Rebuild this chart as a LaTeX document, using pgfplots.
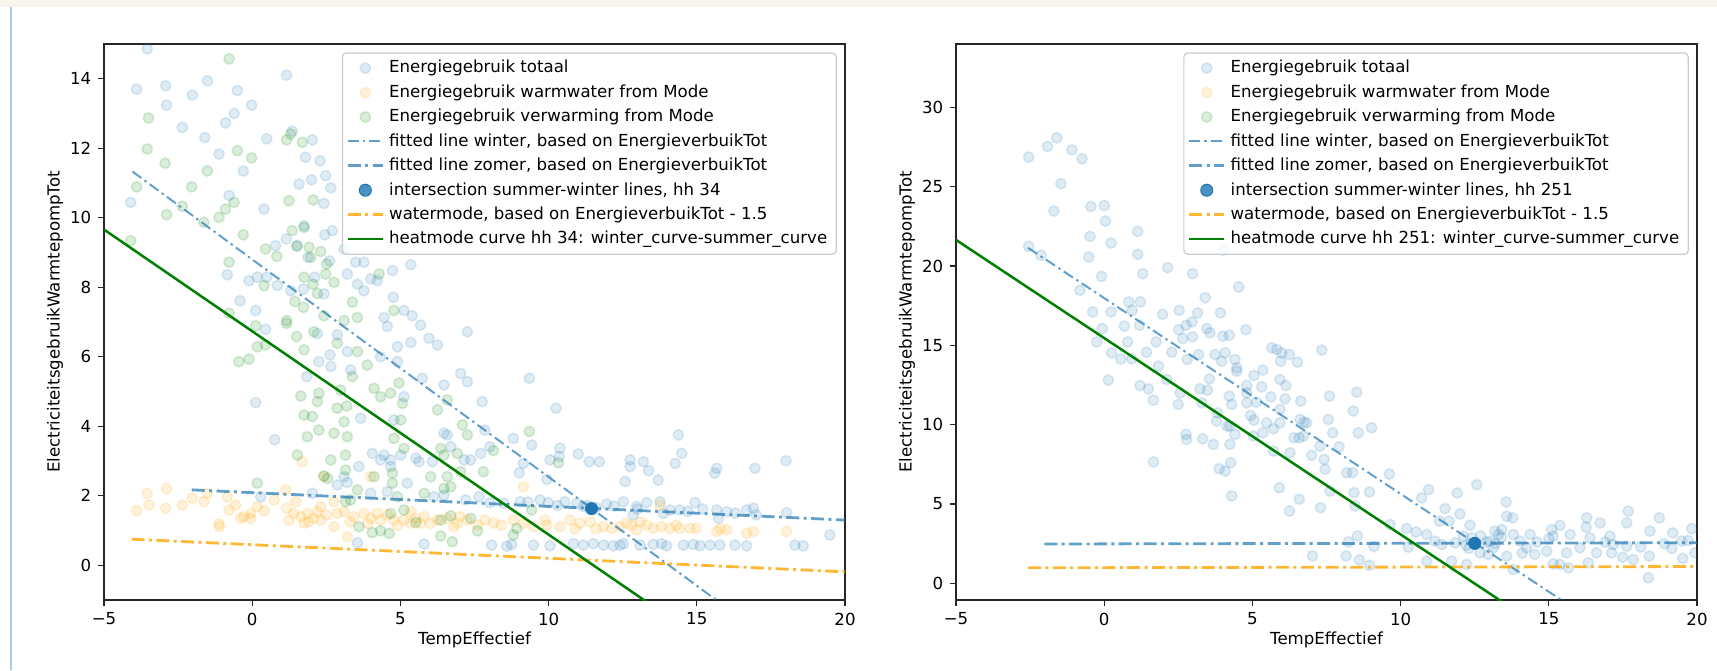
\documentclass[border=0pt]{standalone}
\usepackage{fontspec}
\setmainfont{DejaVu Sans}
\usepackage{pgfplots}
\usepackage{pgfplotstable}
\pgfplotsset{compat=1.18}

\definecolor{tabblue}{HTML}{1F77B4}
\definecolor{mplorange}{HTML}{FFA500}
\definecolor{mplgreen}{HTML}{008000}
\definecolor{pagebeige}{HTML}{F8F5EF}
\definecolor{sidebar}{HTML}{A9CBE6}

% ---- left panel (hh 34) ----
\pgfplotstableread{
x y
-3.54 14.86
-3.90 13.70
-2.92 13.80
-2.89 13.24
-2.02 13.53
-1.51 13.94
-0.50 13.66
-0.61 13.00
-0.90 12.73
-0.02 13.24
-2.36 12.60
-1.60 12.31
-1.12 11.83
-0.30 11.34
-0.78 10.64
-4.10 10.44
0.40 10.25
0.49 12.27
1.16 14.10
1.35 12.49
2.03 12.24
1.80 11.74
2.29 11.64
2.00 11.09
2.48 11.21
2.65 10.86
1.58 10.97
2.42 10.41
2.70 9.63
2.45 9.51
0.79 9.20
1.15 9.39
1.75 9.77
1.52 9.20
1.88 8.86
2.61 8.76
3.10 9.10
3.49 8.72
3.77 8.72
3.21 8.38
3.55 8.09
4.00 8.24
4.22 8.19
3.77 7.90
4.73 8.48
5.35 8.65
-0.84 8.36
-0.11 8.19
0.17 8.29
0.49 8.29
0.85 8.05
1.30 7.90
1.73 7.95
2.11 8.29
2.42 7.81
-0.41 7.61
0.12 7.33
4.76 7.71
5.12 7.33
5.40 7.18
4.45 7.13
0.45 6.79
0.12 4.68
0.76 3.61
1.84 5.43
2.25 5.86
2.62 6.05
2.87 6.63
3.21 6.15
3.32 5.62
2.65 5.72
3.66 4.23
4.05 3.22
4.33 3.03
4.45 3.17
4.67 3.03
4.67 2.84
5.01 3.17
5.52 3.08
6.47 3.80
6.58 3.75
7.03 5.52
7.26 5.28
7.26 6.72
6.25 6.34
5.96 6.53
5.68 6.91
5.35 6.41
4.56 6.87
4.33 6.00
4.90 5.86
5.12 4.85
5.74 5.38
6.47 5.19
4.78 4.18
3.60 2.84
3.21 2.38
2.87 2.31
3.10 2.55
5.23 2.36
5.63 2.98
6.08 2.98
7.15 3.03
7.37 3.03
6.70 3.41
7.71 3.22
7.76 4.71
3.55 0.65
5.80 0.61
2.03 2.07
0.29 1.97
4.00 2.07
4.56 2.12
6.13 1.97
6.47 2.02
7.20 1.88
7.65 1.97
2.20 6.67
4.90 6.29
9.35 5.38
10.25 4.52
14.38 3.75
14.49 3.22
18.01 3.01
8.81 3.65
9.43 3.46
10.38 3.37
10.36 3.13
11.00 3.20
11.37 2.98
11.71 2.98
12.75 3.03
12.75 2.84
13.20 2.98
13.37 2.72
14.27 2.93
13.70 2.45
12.58 2.41
15.67 2.79
15.61 2.65
16.96 2.79
9.15 2.93
9.01 2.66
9.94 2.47
10.05 3.03
8.02 3.41
7.85 3.89
8.02 1.80
9.04 1.83
9.99 1.80
10.55 1.83
10.95 1.78
11.17 1.69
11.96 1.76
12.52 1.83
12.97 1.69
13.31 1.80
13.76 1.83
14.10 1.59
14.43 1.59
14.94 1.80
15.67 1.59
16.01 1.54
16.68 1.59
16.91 1.64
18.03 1.51
12.86 1.45
13.87 1.49
15.73 1.35
9.71 1.88
11.30 1.72
11.60 1.66
12.20 1.70
13.00 1.62
14.70 1.55
15.20 1.62
16.30 1.50
17.00 1.45
10.30 1.72
8.50 1.78
9.30 1.82
19.49 0.87
8.08 0.58
8.59 0.55
8.75 0.60
9.49 0.58
10.05 0.56
10.84 0.62
11.17 0.58
11.51 0.62
11.85 0.58
12.18 0.56
12.41 0.58
12.52 0.62
13.08 0.58
13.53 0.60
13.81 0.62
13.98 0.56
14.55 0.58
14.88 0.60
15.11 0.56
15.45 0.58
15.78 0.58
16.29 0.58
16.68 0.56
18.31 0.58
18.59 0.56
}\lefttotal

\pgfplotstableread{
x y
-3.90 1.57
-3.54 2.07
-3.48 1.73
-2.92 1.64
-2.89 2.21
-2.36 1.73
-2.02 1.93
-1.63 1.83
-1.51 2.07
-1.12 1.19
-1.10 1.11
-0.84 1.97
-0.78 1.59
-0.56 1.73
-0.28 1.40
-0.05 1.49
0.17 1.69
0.40 1.57
-0.05 1.35
-0.39 1.35
1.16 1.64
1.41 1.49
1.64 1.40
1.86 1.49
2.08 1.35
2.31 1.30
1.75 1.21
2.42 2.55
2.76 1.83
3.10 1.54
3.43 1.40
3.77 1.49
4.00 1.35
4.22 1.49
4.33 1.30
4.78 1.30
5.12 1.30
5.35 1.21
5.80 1.40
6.25 1.30
6.58 1.35
6.92 1.21
7.26 1.30
7.60 1.16
1.69 2.98
3.21 0.82
4.00 2.55
2.31 1.69
1.24 1.30
2.76 1.11
5.68 1.21
1.13 2.17
1.47 1.83
0.74 1.88
2.87 1.49
4.56 1.45
5.35 1.54
1.90 1.25
2.50 1.45
3.30 1.25
3.90 1.20
4.90 1.15
5.50 1.35
6.00 1.20
6.80 1.10
7.00 1.40
2.20 1.55
7.85 1.30
8.14 1.21
8.81 1.30
9.15 1.21
9.49 1.11
9.88 1.30
9.94 1.16
10.38 1.11
10.72 1.30
11.06 1.21
11.40 1.25
11.85 1.11
12.13 1.06
12.41 1.11
12.63 1.21
12.97 1.02
13.31 1.16
13.53 1.06
13.81 1.11
14.10 1.06
14.43 1.06
14.77 1.06
14.99 1.06
15.67 0.97
16.01 1.02
16.68 0.92
16.91 0.97
18.03 0.97
9.15 2.26
13.76 1.73
12.80 1.15
13.10 1.25
14.30 1.15
15.80 1.05
11.60 1.05
10.90 1.05
8.40 1.15
}\leftwater

\pgfplotstableread{
x y
-0.78 14.57
-3.50 12.87
-3.54 11.98
-2.94 11.57
-1.51 11.35
-0.50 11.93
-0.02 11.72
-3.90 10.89
-2.04 10.89
-2.89 10.09
-2.36 10.33
-1.63 9.87
-1.12 10.01
-0.90 10.25
-0.61 10.44
-0.30 9.51
1.24 10.49
2.06 10.51
1.16 12.24
1.69 12.17
1.30 12.41
0.45 9.10
0.83 8.89
1.35 9.63
1.75 9.72
1.50 9.18
1.92 9.15
2.31 9.03
2.51 8.67
1.97 8.86
-0.78 8.72
1.75 8.29
2.20 7.82
2.48 8.38
2.76 8.14
2.05 8.09
1.44 7.59
1.73 7.42
1.16 7.04
0.40 8.05
3.38 7.57
3.55 7.13
3.10 7.04
4.28 8.38
4.78 7.33
-4.10 9.34
-0.78 7.25
2.42 7.18
0.12 6.89
1.16 6.96
1.50 6.58
1.75 6.20
0.17 6.29
0.45 6.34
-0.45 5.86
-0.11 5.93
2.08 6.72
2.87 6.39
3.55 6.15
3.88 5.76
3.38 5.43
2.98 5.04
2.25 4.95
1.64 4.87
1.75 4.32
2.03 4.28
2.20 4.71
2.87 4.52
3.19 4.58
3.10 4.13
2.76 3.80
1.86 3.70
1.52 3.17
2.25 3.89
3.21 3.70
3.15 3.17
2.65 3.03
2.54 2.50
3.15 2.74
2.42 2.57
4.11 5.09
4.33 4.85
4.67 4.95
4.95 5.24
5.07 4.66
5.01 4.18
6.25 4.47
6.58 4.76
7.09 4.04
7.26 3.75
4.78 3.65
5.12 3.36
6.36 3.36
6.47 3.17
6.92 3.22
6.02 2.55
6.58 2.55
7.03 2.69
4.73 2.65
4.73 2.36
4.11 2.55
3.55 2.17
3.32 1.88
3.15 1.83
4.67 1.49
5.12 1.59
5.52 1.23
6.36 1.30
6.70 1.42
7.37 1.35
7.60 0.99
3.60 1.11
4.05 0.94
4.33 0.99
4.62 0.92
6.36 0.84
6.75 0.68
0.17 2.36
4.90 1.97
5.80 2.07
6.47 2.21
6.70 2.26
9.35 3.85
10.33 2.95
7.80 2.69
8.14 3.30
8.92 1.06
8.81 0.87
9.43 1.59
}\leftheat

% ---- right panel (hh 251) ----
\pgfplotstableread{
x y
-2.55 26.87
-1.91 27.54
-1.60 28.08
-1.09 27.33
-0.75 26.76
-1.46 25.19
-1.70 23.47
-0.45 23.76
0.00 23.82
0.04 22.84
-0.48 21.87
0.23 21.45
1.13 22.19
1.13 20.74
-0.52 20.57
1.30 19.52
-0.09 19.35
2.14 19.90
2.98 19.52
4.54 18.68
-2.13 20.68
-2.55 21.25
4.00 21.00
-0.82 18.47
3.41 18.01
-0.39 17.11
0.23 17.11
0.83 17.74
1.22 17.74
0.94 17.21
1.97 16.96
2.53 17.21
3.15 17.05
3.92 17.05
-0.07 16.06
0.68 16.21
1.19 16.27
2.51 15.99
2.76 16.27
2.96 16.48
3.46 16.06
3.57 15.79
4.00 15.58
4.22 15.64
4.78 15.99
-0.25 15.22
0.79 15.22
1.75 15.22
2.65 15.43
2.98 15.54
-1.60 34.10
0.25 14.53
0.56 14.15
0.93 14.15
1.43 14.57
2.28 14.57
2.80 14.11
3.18 14.42
3.74 14.42
4.08 14.53
3.96 14.00
4.41 14.11
4.47 13.58
1.83 13.69
0.14 12.81
1.21 12.47
1.49 12.26
1.66 11.55
2.11 12.85
2.56 12.01
2.50 11.28
3.23 12.26
3.48 12.18
3.55 12.89
3.29 11.38
3.82 10.75
4.22 11.80
4.30 11.28
4.24 9.91
4.47 13.37
4.81 12.01
4.81 12.47
5.05 13.10
5.35 13.44
5.31 12.39
5.14 11.42
5.62 11.76
5.93 12.85
6.13 12.47
5.93 10.96
6.10 11.63
5.65 14.84
5.82 14.74
5.99 14.53
6.25 14.42
6.52 13.94
5.95 14.00
4.81 11.38
4.94 10.58
5.05 10.29
5.48 10.12
5.71 9.74
5.93 10.12
5.35 9.49
5.03 9.28
3.79 10.23
4.15 9.91
4.41 9.39
2.76 9.39
2.78 9.07
3.32 9.11
3.68 8.76
4.24 8.76
1.66 7.65
3.88 7.23
4.08 7.08
4.27 7.60
4.30 5.51
5.71 8.34
6.27 8.23
6.63 11.49
6.61 10.33
6.74 10.16
6.83 10.12
6.40 9.18
6.58 9.18
6.72 9.28
7.00 8.07
7.28 8.65
7.42 7.81
7.45 7.19
7.62 5.82
7.34 14.70
7.60 11.80
7.56 10.33
7.71 9.49
7.93 8.61
8.18 6.97
8.38 6.97
8.43 5.72
8.46 4.88
8.52 12.05
8.40 10.86
8.57 9.49
9.02 9.81
8.95 5.76
5.91 6.03
6.58 5.30
6.25 4.56
7.30 4.77
7.03 1.73
8.16 1.73
8.61 1.48
8.95 1.14
9.10 2.32
8.24 2.61
8.54 2.99
9.62 6.89
10.94 5.91
10.71 5.38
11.91 5.70
12.57 6.22
11.50 4.71
12.00 4.38
11.31 3.92
11.64 3.92
12.34 3.66
13.56 5.13
13.58 4.23
13.78 4.13
9.64 3.71
10.20 3.45
10.52 3.24
10.88 3.08
11.16 2.66
10.26 2.28
12.12 2.97
12.21 2.40
12.68 1.92
12.96 1.82
13.18 3.29
13.30 3.08
13.41 3.39
13.13 2.24
13.58 1.71
13.80 3.08
14.03 2.66
14.25 2.24
14.37 3.08
14.53 1.82
14.93 2.03
15.10 3.39
15.38 3.66
15.15 2.97
15.60 1.92
15.72 3.08
16.05 2.24
16.28 4.13
16.26 3.54
16.73 3.81
16.39 2.87
17.06 2.97
17.18 2.45
17.68 4.55
17.63 3.81
17.63 2.34
17.49 1.65
17.85 1.50
18.39 1.71
18.36 0.35
18.73 4.13
18.41 3.29
19.18 3.18
19.48 2.66
19.82 3.45
19.52 1.57
19.93 1.92
19.15 2.20
15.15 1.23
15.66 0.98
16.33 1.29
13.80 0.87
10.88 1.40
11.72 1.40
12.23 1.19
15.38 1.19
17.12 1.92
16.61 1.92
13.02 2.66
11.84 2.55
12.40 2.87
11.39 2.45
12.90 2.60
13.20 2.50
12.70 3.00
13.40 2.90
12.30 2.20
14.60 2.60
15.00 2.80
16.90 2.60
18.10 2.30
18.90 2.50
19.70 2.70
14.10 1.90
}\righttotal

\pgfplotsset{
  panel/.style={
    scale only axis, width=370.5pt, height=278pt,
    xmin=-5, xmax=20,
    xtick={-5,0,5,10,15,20},
    xticklabels={−5,0,5,10,15,20},
    tick align=outside, major tick length=2.9pt,
    xtick pos=bottom, ytick pos=left,
    axis line style={line width=0.65pt, black!85},
    tick style={line width=0.65pt, black!85},
    /pgf/number format/assume math mode=true,
    xlabel={TempEffectief},
    ylabel={ElectriciteitsgebruikWarmtepompTot},
    xlabel style={at={(axis description cs:0.5,-0.072)}, anchor=center},
    ylabel style={at={(axis description cs:-0.066,0.5)}, anchor=center},
    clip marker paths=true,
    legend cell align=left,
    legend style={at={(rel axis cs:0.989,0.985)}, anchor=north east,
      draw=black!20, line width=0.6pt, rounded corners=2pt,
      fill=white, fill opacity=0.8, text opacity=1,
      inner xsep=2pt, inner ysep=1.5pt, row sep=0pt,
      nodes={inner ysep=2.2pt, inner xsep=2.5pt}},
    legend image code/.code={\draw[mark repeat=2,mark phase=2,##1]
      plot coordinates {(0pt,0pt) (8.75pt,0pt) (17.5pt,0pt)};},
  },
  scat/.style={only marks, mark=*, mark size=2.6pt,
    mark options={draw=#1, fill=#1, line width=0.8pt,
      fill opacity=0.14, draw opacity=0.14}},
  winterline/.style={tabblue, opacity=0.7, line width=1.0pt,
    dash pattern=on 5.5pt off 2pt on 1.2pt off 2pt},
  zomerline/.style={tabblue, opacity=0.7, line width=1.4pt,
    dash pattern=on 6.5pt off 2.2pt on 1.5pt off 2.2pt},
  waterline/.style={mplorange, opacity=0.8, line width=1.4pt,
    dash pattern=on 6.5pt off 2.2pt on 1.5pt off 2.2pt},
  heatline/.style={mplgreen, line width=1.25pt},
  isect/.style={only marks, mark=*, mark size=3pt,
    mark options={draw=tabblue, fill=tabblue, line width=0.5pt}},
}

\begin{document}
\begin{tikzpicture}[font=\fontsize{8.3}{10}\selectfont]
\useasboundingbox (0,0) rectangle (858.5pt,335pt);
\fill[pagebeige] (0,331.5pt) rectangle (858.5pt,335pt);
\draw[sidebar, line width=1pt] (5.5pt,0) -- (5.5pt,331.5pt);

\begin{axis}[panel, at={(52pt,35pt)}, anchor=south west,
  ymin=-1, ymax=15, ytick={0,2,4,6,8,10,12,14}]
\addplot[scat=tabblue] table {\lefttotal};
\addlegendentry{Energiegebruik totaal}
\addplot[scat=mplorange] table {\leftwater};
\addlegendentry{Energiegebruik warmwater from Mode}
\addplot[scat=mplgreen] table {\leftheat};
\addlegendentry{Energiegebruik verwarming from Mode}
\addplot[winterline] coordinates {(-4.04,11.33) (20,-3.72)};
\addlegendentry{fitted line winter, based on EnergieverbuikTot}
\addplot[zomerline] coordinates {(-2.04,2.17) (20,1.30)};
\addlegendentry{fitted line zomer, based on EnergieverbuikTot}
\addplot[isect] coordinates {(11.45,1.63)};
\addlegendentry{intersection summer-winter lines, hh 34}
\addplot[waterline] coordinates {(-4.07,0.75) (20,-0.19)};
\addlegendentry{watermode, based on EnergieverbuikTot - 1.5}
\addplot[heatline] coordinates {(-5,9.66) (20,-4.97)};
\addlegendentry{heatmode curve hh 34: winter\_curve-summer\_curve}
\end{axis}

\begin{axis}[panel, at={(478pt,35pt)}, anchor=south west,
  ymin=-1.05, ymax=34, ytick={0,5,10,15,20,25,30}]
\addplot[scat=tabblue] table {\righttotal};
\addlegendentry{Energiegebruik totaal}
\addlegendimage{scat=mplorange}
\addlegendentry{Energiegebruik warmwater from Mode}
\addlegendimage{scat=mplgreen}
\addlegendentry{Energiegebruik verwarming from Mode}
\addplot[winterline] coordinates {(-2.57,21.15) (20,-6.70)};
\addlegendentry{fitted line winter, based on EnergieverbuikTot}
\addplot[zomerline] coordinates {(-2.02,2.48) (20,2.56)};
\addlegendentry{fitted line zomer, based on EnergieverbuikTot}
\addplot[isect] coordinates {(12.5,2.52)};
\addlegendentry{intersection summer-winter lines, hh 251}
\addplot[waterline] coordinates {(-2.57,0.98) (20,1.06)};
\addlegendentry{watermode, based on EnergieverbuikTot - 1.5}
\addplot[heatline] coordinates {(-5,21.65) (20,-9.3)};
\addlegendentry{heatmode curve hh 251: winter\_curve-summer\_curve}
\end{axis}
\end{tikzpicture}
\end{document}
